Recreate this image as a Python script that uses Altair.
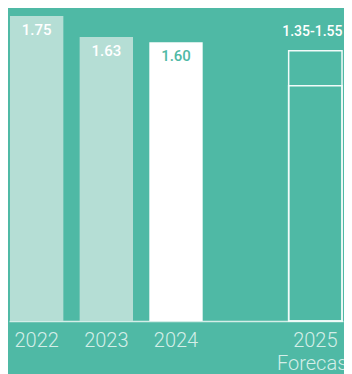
import altair as alt
import pandas as pd

# ---- data ----
years = ["2022", "2023", "2024"]
values = [1.75, 1.63, 1.60]
labels = ["1.75", "1.63", "1.60"]
kinds = ["past", "past", "current"]
forecast_year = "2025"
forecast_low = 1.35
forecast_high = 1.55
forecast_label = "1.35-1.55"
x_domain = ["2022", "2023", "2024", " ", "2025"]

BG = "#4fb9a5"
FONT = "Roboto"

bars = pd.DataFrame({"year": years, "value": values, "label": labels, "kind": kinds})
fc = pd.DataFrame({"year": [forecast_year, forecast_year],
                   "value": [forecast_high, forecast_low]})
fc_lab = pd.DataFrame({"year": [forecast_year], "value": [forecast_high],
                       "label": [forecast_label]})

x_enc = alt.X(
    "year:N",
    scale=alt.Scale(domain=x_domain, paddingInner=0.234, paddingOuter=0.014),
    axis=alt.Axis(
        title=None, ticks=False, grid=False,
        domainColor="#d4eee8", domainWidth=1.5,
        labelAngle=0, labelFont=FONT, labelFontSize=20, labelFontWeight=300,
        labelColor="#d4eee8", labelPadding=9, labelLineHeight=23,
        labelExpr="datum.value == '2025' ? ['2025', 'Forecast'] : datum.value",
    ),
)
y_scale = alt.Scale(domain=[0, 1.796], nice=False, zero=True)

bar_layer = alt.Chart(bars).mark_bar().encode(
    x=x_enc,
    y=alt.Y("value:Q", scale=y_scale, axis=None, stack=None),
    color=alt.Color("kind:N", scale=alt.Scale(domain=["past", "current"],
                                               range=["#b5ded5", "#ffffff"]), legend=None),
)

bar_text = alt.Chart(bars).mark_text(
    baseline="alphabetic", dy=19, font=FONT, fontSize=15, fontWeight=500
).encode(
    x=x_enc,
    y=alt.Y("value:Q", scale=y_scale, axis=None),
    text="label:N",
    color=alt.Color("kind:N", scale=alt.Scale(domain=["past", "current"],
                                               range=["#ffffff", BG]), legend=None),
)

fc_layer = alt.Chart(fc).mark_bar(
    fillOpacity=0, stroke="#f2fbf9", strokeWidth=1.5
).encode(
    x=x_enc,
    y=alt.Y("value:Q", scale=y_scale, axis=None, stack=None),
)

fc_text = alt.Chart(fc_lab).mark_text(
    baseline="alphabetic", dy=-15, dx=-3, font=FONT, fontSize=14, fontWeight=500,
    color="#ffffff"
).encode(
    x=x_enc,
    y=alt.Y("value:Q", scale=y_scale, axis=None),
    text="label:N",
)

chart = alt.layer(bar_layer, bar_text, fc_layer, fc_text).resolve_scale(
    color="independent"
).properties(
    width=334, height=313,
    autosize=alt.AutoSizeParams(type="none"),
    padding={"left": 1, "top": 0, "right": 1, "bottom": 53},
    background=BG,
).configure_view(strokeWidth=0)

chart.save("out.html", embed_options={"renderer": "svg", "actions": False})
